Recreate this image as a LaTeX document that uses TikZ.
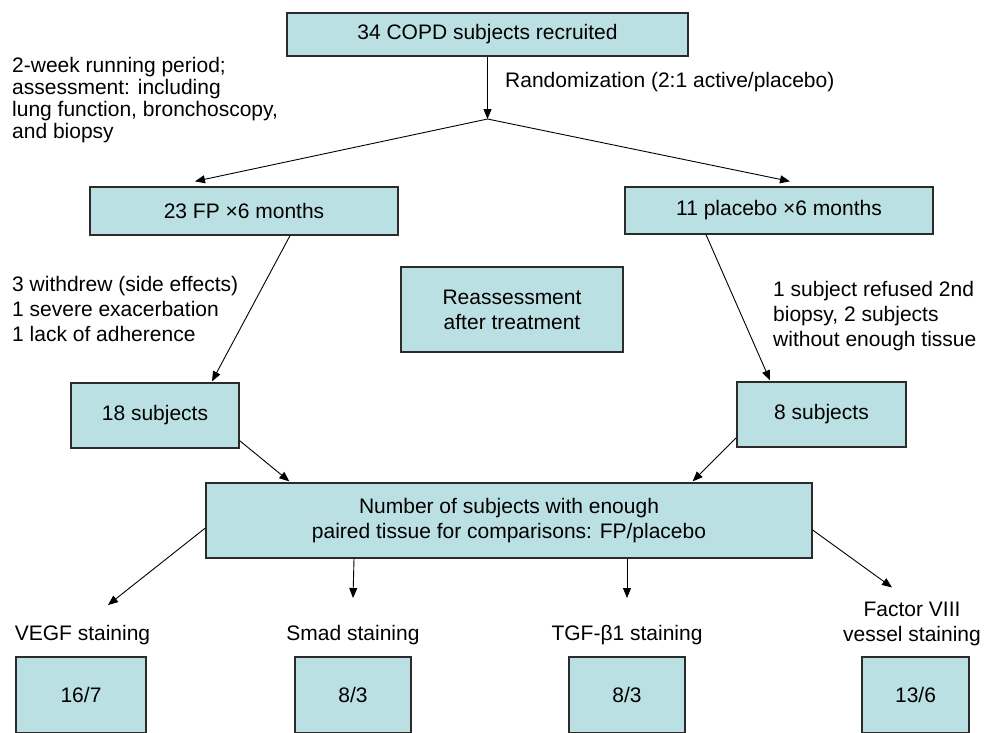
\documentclass[tikz,border=0pt]{standalone}
\usepackage{fontspec}
\setmainfont{Liberation Sans}
\usetikzlibrary{arrows.meta}
\definecolor{boxfill}{HTML}{BBE0E3}
\definecolor{edge}{HTML}{2B2B2B}
\begin{document}
\begin{tikzpicture}[x=1pt,y=-1pt,
  every node/.style={font=\fontsize{21}{25}\selectfont, inner sep=0pt},
  box/.style={draw=edge, line width=1.3pt, fill=boxfill, align=center},
  lbl/.style={align=left, anchor=west},
  arr/.style={-{Triangle[length=10pt,width=8pt]}, line width=0.9pt, draw=black}]
\useasboundingbox (0,0) rectangle (984,732);

% top part
\node[box, minimum width=401pt, minimum height=43pt] (top) at (487.5,34.5) {34 COPD subjects recruited};
\node[lbl] (rand) at (505,82) {Randomization (2:1 active/placebo)};
\node[lbl, font=\fontsize{21}{22}\selectfont] (run) at (12,100) {2-week running period;\\assessment: including\\lung function, bronchoscopy,\\and biopsy};
\coordinate (apex) at (487.5,119);

% treatment arms
\node[box, minimum width=308pt, minimum height=48pt] (fp) at (244,211) {23 FP ×6 months};
\node[box, minimum width=308pt, minimum height=47pt] (pl) at (779,210.5) {11 placebo ×6 months};
\node[lbl] (wd) at (12,308.5) {3 withdrew (side effects)\\1 severe exacerbation\\1 lack of adherence};
\node[box, minimum width=222pt, minimum height=85pt] (re) at (512,309.5) {Reassessment\\after treatment};
\node[lbl] (rf) at (773,316.5) {1 subject refused 2nd\\biopsy, 2 subjects\\without enough tissue};
\node[box, minimum width=168pt, minimum height=65pt] (s18) at (155,415.5) {18 subjects};
\node[box, minimum width=169pt, minimum height=65pt] (s8) at (821.5,414.5) {8 subjects};
\node[box, minimum width=606pt, minimum height=75pt] (num) at (509,520.5) {Number of subjects with enough\\paired tissue for comparisons: FP/placebo};

% stainings
\node (l1) at (82.5,635) {VEGF staining};
\node (l2) at (353,635) {Smad staining};
\node (l3) at (627,635) {TGF-β1 staining};
\node[align=center] (l4) at (912,623.5) {Factor VIII\\vessel staining};
\node[box, minimum width=130pt, minimum height=76pt] (b1) at (81,695) {16/7};
\node[box, minimum width=116pt, minimum height=76pt] (b2) at (353,695) {8/3};
\node[box, minimum width=116pt, minimum height=76pt] (b3) at (627,695) {8/3};
\node[box, minimum width=107pt, minimum height=76pt] (b4) at (915.5,695) {13/6};

% connectors
\draw[arr] (top.south) -- (apex);
\draw[arr] (apex) -- ([xshift=-49pt,yshift=5pt]fp.north);
\draw[arr] (apex) -- ([xshift=11pt,yshift=5pt]pl.north);
\draw[arr] ([xshift=46pt]fp.south) -- ([xshift=57pt,yshift=1pt]s18.north);
\draw[arr] ([xshift=-73pt]pl.south) -- ([xshift=-51.5pt,yshift=1pt]s8.north);
\draw[arr] ([yshift=8pt]s18.south east) -- ([xshift=84pt,yshift=1pt]num.north west);
\draw[arr] ([yshift=10pt]s8.south west) -- ([xshift=-120pt,yshift=1pt]num.north east);
\draw[arr] ([yshift=-7.5pt]num.west) -- ([xshift=25.5pt,yshift=20pt]l1.north);
\draw[arr] ([xshift=-155pt]num.south) -- ([yshift=27pt]l2.north);
\draw[arr] ([xshift=118pt]num.south) -- ([yshift=27pt]l3.north);
\draw[arr] ([yshift=-9.5pt]num.east) -- ([xshift=-20pt,yshift=14pt]l4.north);
\end{tikzpicture}
\end{document}
